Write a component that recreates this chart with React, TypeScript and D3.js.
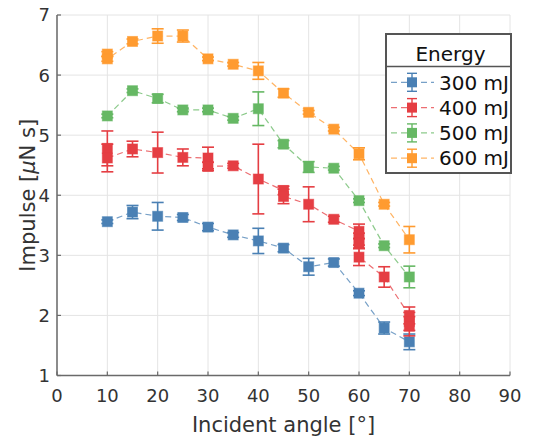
import React from "react";
import * as d3 from "d3";

// ---- Data ----
const xTicks = [0, 10, 20, 30, 40, 50, 60, 70, 80, 90];
const yTicks = [1, 2, 3, 4, 5, 6, 7];
const seriesNames = ["300 mJ", "400 mJ", "500 mJ", "600 mJ"];
const seriesColors = ["#4a80b4", "#e53e43", "#66b864", "#ff9b30"];

const angles300 = [10, 15, 20, 25, 30, 35, 40, 45, 50, 55, 60, 65, 70];
const values300 = [3.56, 3.72, 3.65, 3.63, 3.47, 3.34, 3.24, 3.12, 2.81, 2.88, 2.37, 1.79, 1.56];
const errors300 = [0.03, 0.11, 0.23, 0.05, 0.06, 0.04, 0.21, 0.06, 0.14, 0.06, 0.04, 0.1, 0.13];

const angles400 = [10, 10, 15, 20, 25, 30, 30, 35, 40, 45, 45, 50, 55, 60, 60, 60, 60, 65, 70, 70, 70];
const values400 = [4.78, 4.62, 4.77, 4.71, 4.63, 4.62, 4.48, 4.49, 4.27, 4.08, 3.98, 3.85, 3.6, 3.4, 3.27, 3.2, 2.97, 2.64, 2.0, 1.9, 1.82];
const errors400 = [0.29, 0.23, 0.13, 0.34, 0.14, 0.18, 0.07, 0.04, 0.58, 0.07, 0.12, 0.29, 0.05, 0.12, 0.1, 0.08, 0.14, 0.17, 0.14, 0.15, 0.16];

const angles500 = [10, 15, 20, 25, 30, 35, 40, 45, 50, 55, 60, 65, 70];
const values500 = [5.32, 5.74, 5.61, 5.42, 5.42, 5.28, 5.44, 4.85, 4.47, 4.45, 3.91, 3.16, 2.64];
const errors500 = [0.03, 0.03, 0.07, 0.03, 0.03, 0.03, 0.28, 0.06, 0.09, 0.03, 0.03, 0.03, 0.18];

const angles600 = [10, 10, 15, 20, 25, 30, 35, 40, 45, 50, 55, 60, 65, 70];
const values600 = [6.35, 6.27, 6.56, 6.65, 6.65, 6.27, 6.18, 6.07, 5.7, 5.38, 5.1, 4.69, 3.85, 3.26];
const errors600 = [0.04, 0.04, 0.04, 0.12, 0.1, 0.03, 0.03, 0.14, 0.07, 0.03, 0.03, 0.1, 0.03, 0.22];

const seriesAngles = [angles300, angles400, angles500, angles600];
const seriesValues = [values300, values400, values500, values600];
const seriesErrors = [errors300, errors400, errors500, errors600];

// ---- Layout ----
const W = 541;
const H = 439;
const left = 57;
const right = 510;
const top = 15;
const bottom = 375.5;
const FONT = "DejaVu Sans, sans-serif";
const TEXT = "#333333";

export default function App() {
  const x = d3.scaleLinear().domain([0, 90]).range([left, right]);
  const y = d3.scaleLinear().domain([1, 7]).range([bottom, top]);
  const line = d3
    .line<[number, number]>()
    .x((d) => x(d[0]))
    .y((d) => y(d[1]));

  const ms = 10; // marker size
  const cap = 6;

  const series = seriesNames.map((name, i) => ({
    name,
    color: seriesColors[i],
    pts: seriesAngles[i].map((a, j) => ({ a, v: seriesValues[i][j], e: seriesErrors[i][j] })),
  }));

  const legX = 386;
  const legY = 34;
  const legW = 125;
  const legH = 139;
  const entryY = [82.3, 107.6, 132.9, 158.2];

  return (
    <svg
      width={W}
      height={H}
      style={{ position: "absolute", left: 0, top: 0, background: "#fff" }}
      fontFamily={FONT}
    >
      <rect x={0} y={0} width={W} height={H} fill="#fff" />
      {/* grid */}
      {xTicks.map((t) => (
        <line key={"gx" + t} x1={x(t)} x2={x(t)} y1={top} y2={bottom} stroke="#e4e4e4" strokeWidth={1} />
      ))}
      {yTicks.map((t) => (
        <line key={"gy" + t} x1={left} x2={right} y1={y(t)} y2={y(t)} stroke="#e4e4e4" strokeWidth={1} />
      ))}
      {/* axes */}
      <line x1={left} x2={left} y1={top} y2={bottom} stroke="#6a6a6a" strokeWidth={1.5} />
      <line x1={left} x2={right} y1={bottom} y2={bottom} stroke="#6a6a6a" strokeWidth={1.5} />
      {xTicks.map((t) => (
        <g key={"xt" + t}>
          <line x1={x(t)} x2={x(t)} y1={bottom} y2={bottom - 4} stroke="#6a6a6a" strokeWidth={1.2} />
          <text x={x(t)} y={401.5} textAnchor="middle" fontSize={18} fill={TEXT}>
            {t}
          </text>
        </g>
      ))}
      {yTicks.map((t) => (
        <g key={"yt" + t}>
          <line x1={left} x2={left + 4} y1={y(t)} y2={y(t)} stroke="#6a6a6a" strokeWidth={1.2} />
          <text x={50} y={y(t)} dy="0.36em" textAnchor="end" fontSize={18} fill={TEXT}>
            {t}
          </text>
        </g>
      ))}
      <text x={(left + right) / 2} y={432} textAnchor="middle" fontSize={21} fill={TEXT}>
        Incident angle [°]
      </text>
      <text
        transform={`translate(27, ${(top + bottom) / 2}) rotate(-90)`}
        textAnchor="middle"
        dy="0.36em"
        fontSize={21}
        fill={TEXT}
      >
        Impulse [<tspan fontStyle="italic">μ</tspan>N s]
      </text>

      {/* series */}
      {series.map((s) => (
        <g key={s.name}>
          <path
            d={line(s.pts.map((p) => [p.a, p.v] as [number, number])) || ""}
            fill="none"
            stroke={s.color}
            strokeOpacity={0.75}
            strokeWidth={1.2}
            strokeDasharray="6,4"
          />
          {s.pts.map((p, j) => (
            <g key={j} stroke={s.color} strokeWidth={1.6}>
              <line x1={x(p.a)} x2={x(p.a)} y1={y(p.v - p.e)} y2={y(p.v + p.e)} />
              <line x1={x(p.a) - cap} x2={x(p.a) + cap} y1={y(p.v - p.e)} y2={y(p.v - p.e)} />
              <line x1={x(p.a) - cap} x2={x(p.a) + cap} y1={y(p.v + p.e)} y2={y(p.v + p.e)} />
            </g>
          ))}
          {s.pts.map((p, j) => (
            <rect
              key={"m" + j}
              x={x(p.a) - ms / 2}
              y={y(p.v) - ms / 2}
              width={ms}
              height={ms}
              fill={s.color}
              stroke={s.color}
              strokeOpacity={0.6}
              strokeWidth={1}
            />
          ))}
        </g>
      ))}

      {/* legend */}
      <rect x={legX} y={legY} width={legW} height={legH} fill="#fff" stroke="#555" strokeWidth={2} />
      <line x1={legX} x2={legX + legW} y1={66.5} y2={66.5} stroke="#555" strokeWidth={1.5} />
      <text x={legX + legW / 2 + 2} y={54} dy="0.36em" textAnchor="middle" fontSize={20} fill="#111">
        Energy
      </text>
      {series.map((s, i) => (
        <g key={"leg" + s.name}>
          <line
            x1={390}
            x2={434}
            y1={entryY[i]}
            y2={entryY[i]}
            stroke={s.color}
            strokeOpacity={0.75}
            strokeWidth={1.2}
            strokeDasharray="6,4"
            strokeDashoffset={-1}
          />
          <g stroke={s.color} strokeWidth={1.4}>
            <line x1={412} x2={412} y1={entryY[i] - 9} y2={entryY[i] + 9} />
            <line x1={407} x2={417} y1={entryY[i] - 9} y2={entryY[i] - 9} />
            <line x1={407} x2={417} y1={entryY[i] + 9} y2={entryY[i] + 9} />
          </g>
          <rect x={412 - ms / 2} y={entryY[i] - ms / 2} width={ms} height={ms} fill={s.color} />
          <text x={439} y={entryY[i]} dy="0.36em" fontSize={20} fill="#111">
            {s.name}
          </text>
        </g>
      ))}
    </svg>
  );
}
